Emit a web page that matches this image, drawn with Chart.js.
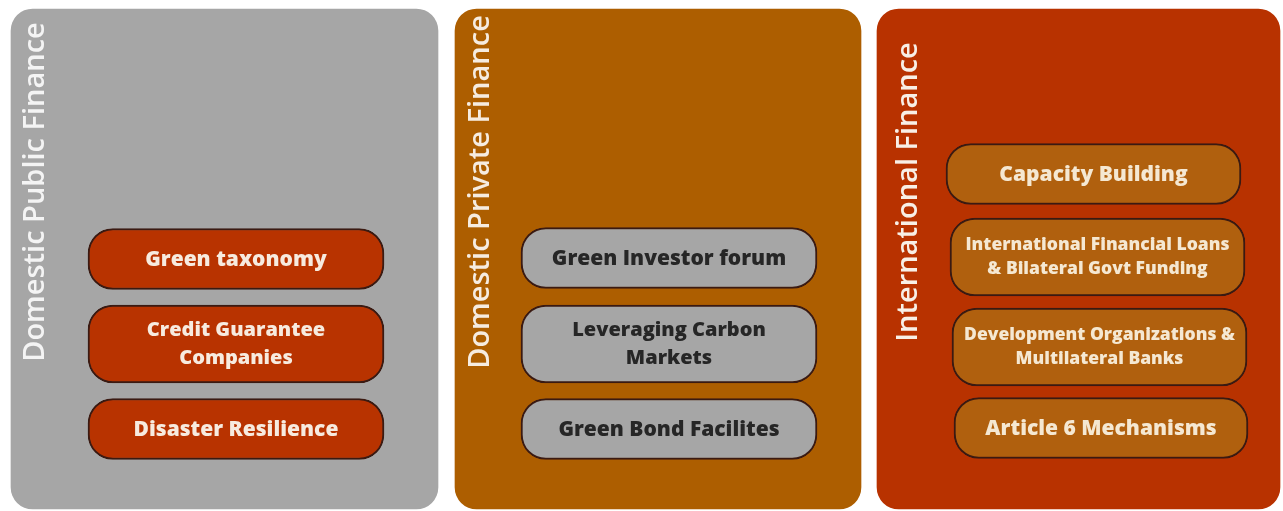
<!DOCTYPE html>
<html>
<head>
<meta charset="utf-8">
<script src="https://cdn.jsdelivr.net/npm/chart.js@4"></script>
<style>
  html, body { margin: 0; padding: 0; background: #ffffff; }
  canvas { display: block; }
</style>
</head>
<body>
<canvas id="financeChart" width="1283" height="511"></canvas>
<script>
// Three finance streams (the big columns)
const panelNames = ['Domestic Public Finance', 'Domestic Private Finance', 'International Finance'];
const panelFrom = [11, 455, 877];
const panelTo = [438, 861, 1280];
const panelMid = [259, 259, 259];

// Instruments inside each stream
const boxLabels = [
  ['Green taxonomy'],
  ['Credit Guarantee', 'Companies'],
  ['Disaster Resilience'],
  ['Green Investor forum'],
  ['Leveraging Carbon', 'Markets'],
  ['Green Bond Facilites'],
  ['Capacity Building'],
  ['International Financial Loans', '& Bilateral Govt Funding'],
  ['Development Organizations &', 'Multilateral Banks'],
  ['Article 6 Mechanisms']
];
const boxPanel = [0, 0, 0, 1, 1, 1, 2, 2, 2, 2];
const boxFrom = [88, 88, 88, 521, 521, 521, 946, 950, 952, 954];
const boxTo = [384, 384, 384, 817, 817, 817, 1241, 1245, 1247, 1248];
const boxMid = [259, 344, 429, 258, 344, 429, 174, 257, 347, 428];

// colours per stream
const panelFill = ['#a6a6a6', '#ad5e00', '#b83200'];
const boxFill = ['#b83300', '#a6a6a6', '#b0600e'];
const boxText = ['#f7ebdf', '#262626', '#f5e8d2'];
const titleColor = ['#f4f4f4', '#f6ece0', '#f8efe6'];
const titleInset = [25, 26, 32];

function pickBoxes(lines) {
  return boxLabels.map((l, i) => i).filter(i => boxLabels[i].length === lines);
}
const oneLine = pickBoxes(1);
const twoLine = pickBoxes(2);

function boxDataset(idx, thickness) {
  return {
    label: 'boxes',
    data: idx.map(i => ({ x: [boxFrom[i], boxTo[i]], y: boxMid[i] })),
    idx: idx,
    backgroundColor: c => boxFill[boxPanel[idx[c.dataIndex]]],
    borderColor: '#3a1a12',
    borderWidth: 2,
    borderRadius: 25,
    borderSkipped: false,
    barThickness: thickness,
    grouped: false,
    order: 1
  };
}

const textPlugin = {
  id: 'textPlugin',
  afterDatasetsDraw(chart) {
    const ctx = chart.ctx;
    ctx.save();
    ctx.textAlign = 'center';
    ctx.textBaseline = 'middle';
    chart.data.datasets.forEach((ds, di) => {
      const meta = chart.getDatasetMeta(di);
      meta.data.forEach((bar, j) => {
        if (ds.label === 'panels') {
          ctx.save();
          ctx.translate(bar.base + titleInset[j], chart.scales.y.getPixelForValue(192));
          ctx.rotate(-Math.PI / 2);
          ctx.fillStyle = titleColor[j];
          ctx.font = '600 29px "Open Sans"';
          ctx.fillText(panelNames[j], 0, 0);
          ctx.restore();
          return;
        }
        const i = ds.idx[j];
        const lines = boxLabels[i];
        const p = boxPanel[i];
        const cx = (bar.x + bar.base) / 2;
        ctx.fillStyle = boxText[p];
        if (lines.length === 1) {
          ctx.font = '800 21px "Open Sans"';
          ctx.fillText(lines[0], cx, bar.y + 1);
        } else {
          const size = p === 2 ? 17.5 : 20;
          const gap = p === 2 ? 24 : 28;
          ctx.font = '800 ' + size + 'px "Open Sans"';
          ctx.fillText(lines[0], cx, bar.y - gap / 2);
          ctx.fillText(lines[1], cx, bar.y + gap / 2);
        }
      });
    });
    ctx.restore();
  }
};

new Chart(document.getElementById('financeChart'), {
  type: 'bar',
  data: {
    datasets: [
      {
        label: 'panels',
        data: panelNames.map((n, i) => ({ x: [panelFrom[i], panelTo[i]], y: panelMid[i] })),
        backgroundColor: panelFill,
        borderWidth: 0,
        borderRadius: 22,
        borderSkipped: false,
        barThickness: 500,
        grouped: false,
        order: 2
      },
      boxDataset(oneLine, 61),
      boxDataset(twoLine, 78)
    ]
  },
  options: {
    indexAxis: 'y',
    responsive: false,
    animation: false,
    layout: { padding: 0 },
    plugins: { legend: { display: false }, tooltip: { enabled: false } },
    scales: {
      x: { type: 'linear', min: 0, max: 1283, display: false },
      y: { type: 'linear', min: 0, max: 511, reverse: true, offset: false, display: false }
    }
  },
  plugins: [textPlugin]
});
</script>
</body>
</html>
